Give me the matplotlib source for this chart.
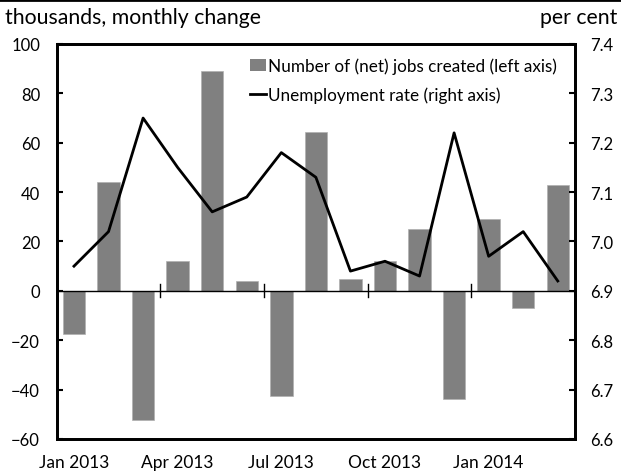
import numpy as np
import matplotlib
matplotlib.use("Agg")
import matplotlib.pyplot as plt
from matplotlib.lines import Line2D
from matplotlib.patches import Patch

plt.rcParams['font.family'] = ['Lato', 'DejaVu Sans']

# ---------------------------------------------------------------------------
# Data: Jan 2013 - Mar 2014
# ---------------------------------------------------------------------------
months = ['Jan 2013', 'Feb 2013', 'Mar 2013', 'Apr 2013', 'May 2013', 'Jun 2013',
          'Jul 2013', 'Aug 2013', 'Sep 2013', 'Oct 2013', 'Nov 2013', 'Dec 2013',
          'Jan 2014', 'Feb 2014', 'Mar 2014']
jobs = [-17.3, 44.2, -52.2, 11.9, 89.2, 3.8, -42.6, 64.2, 5.0, 12.0, 25.0,
        -43.8, 29.3, -6.9, 42.8]
unemp = [6.95, 7.02, 7.25, 7.15, 7.06, 7.09, 7.18, 7.13, 6.94, 6.96, 6.93,
         7.22, 6.97, 7.02, 6.92]

x = np.arange(len(months))

fig = plt.figure(figsize=(6.21, 4.77), dpi=100)
ax = fig.add_axes([0.0913, 0.0776, 0.8347, 0.8281])
ax2 = ax.twinx()

ax.bar(x, jobs, width=0.65, color='#808080', edgecolor='#b0b0b0', linewidth=0.5,
       zorder=2)
ax.axhline(0, color='black', linewidth=1.0, zorder=3)
ax2.plot(x, unemp, color='black', linewidth=2.0, zorder=4)

# small tick marks crossing the zero line every 3 months
for b in [2.5, 5.5, 8.5, 11.5]:
    ax.plot([b, b], [-2.6, 2.6], color='black', linewidth=1.0, zorder=3)

ax.set_xlim(-0.5, len(months) - 0.5)
ax.set_ylim(-60, 100)
ax.set_yticks(np.arange(-60, 101, 20))
ax2.set_ylim(6.6, 7.4)
ax2.set_yticks(np.arange(6.6, 7.41, 0.1))
ax2.set_yticklabels([f'{v:.1f}' for v in np.arange(6.6, 7.41, 0.1)])

ax.set_xticks(x[::3])
ax.set_xticklabels(months[::3])
ax.tick_params(axis='x', length=0, pad=11, labelsize=12.5)
ax.tick_params(axis='y', direction='in', length=4, width=1.5, pad=12, labelsize=12)
ax2.tick_params(axis='y', direction='in', length=4, width=1.5, pad=11, labelsize=12)

for a in (ax, ax2):
    for s in a.spines.values():
        s.set_linewidth(2.0)

handles = [Patch(facecolor='#808080', edgecolor='none'),
           Line2D([0], [0], color='black', linewidth=2.0)]
labels = ['Number of (net) jobs created (left axis)',
          'Unemployment rate (right axis)']
ax2.legend(handles, labels, loc='upper right', frameon=False, fontsize=12.3,
           handlelength=0.9, handletextpad=0.15, labelspacing=0.75,
           bbox_to_anchor=(0.995, 1.005))

fig.text(0.008, 0.962, 'thousands, monthly change', fontsize=15.3, va='center', ha='left')
fig.text(0.994, 0.962, 'per cent', fontsize=15.3, va='center', ha='right')
fig.add_artist(Line2D([0, 1], [0.997, 0.997], color='black', linewidth=2.0))

plt.savefig('out.png', dpi=100)
